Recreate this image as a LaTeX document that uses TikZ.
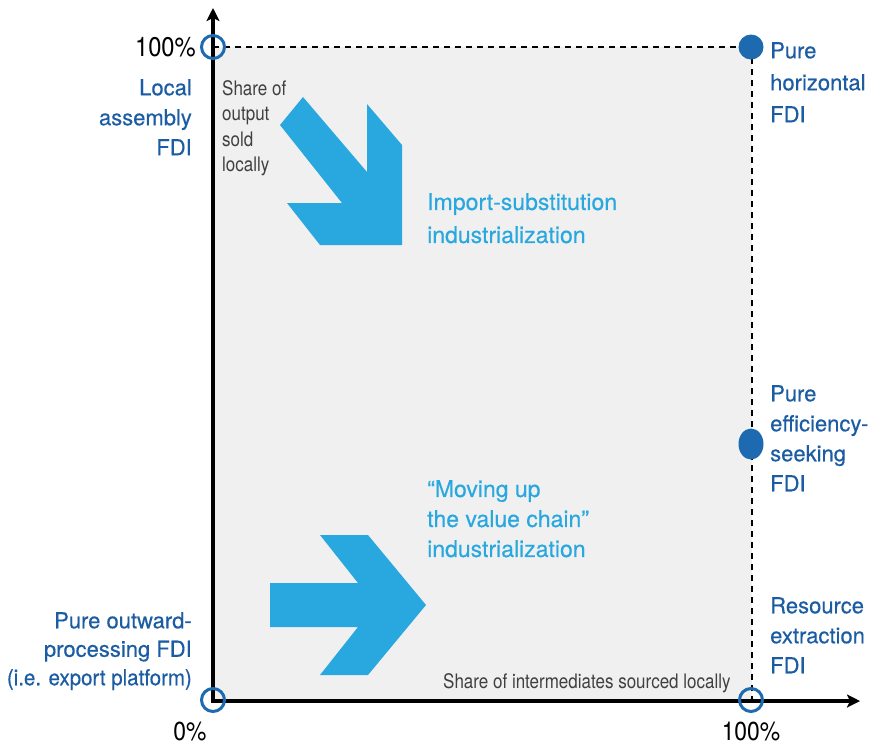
\documentclass[tikz,border=0pt]{standalone}
\usepackage{fontspec}
\setmainfont{TeX Gyre Heros}
\newfontfamily\lblfont[FakeBold=0.35]{TeX Gyre Heros}
\newfontfamily\lblnarrow[FakeBold=0.35, FakeStretch=0.93]{TeX Gyre Heros}
\newfontfamily\condfont[FakeStretch=0.85]{TeX Gyre Heros}
\newfontfamily\numfont[FakeStretch=0.88]{TeX Gyre Heros}
\usetikzlibrary{arrows.meta,shapes.geometric}
\definecolor{boxgrey}{HTML}{F0F0F0}
\definecolor{arrowblue}{HTML}{29A8E0}
\definecolor{darkblue}{HTML}{1B5CA2}
\definecolor{circblue}{HTML}{1E6AB0}
\definecolor{smallgrey}{HTML}{404040}
\tikzset{
  lbl/.style={inner sep=0pt, text=darkblue, font=\lblfont\fontsize{22}{30}\selectfont},
  lblue/.style={inner sep=0pt, text=arrowblue, font=\lblfont\fontsize{23}{31}\selectfont},
  smalltxt/.style={inner sep=0pt, text=smallgrey, font=\condfont\fontsize{20}{25.5}\selectfont},
  pct/.style={inner sep=0pt, text=black, font=\numfont\fontsize{27}{30}\selectfont},
  opencirc/.style={circle, draw=circblue, line width=3pt, fill=none, minimum size=23pt, inner sep=0pt},
  fullcirc/.style={circle, fill=circblue, minimum size=25pt, inner sep=0pt},
  fullell/.style={ellipse, fill=circblue, minimum width=25pt, minimum height=31pt, inner sep=0pt},
  axis/.style={line width=4.5pt, -{Stealth[length=13pt, width=13pt, inset=3pt]}},
  dashline/.style={line width=1.5pt, dash pattern=on 6pt off 5pt},
  bigarrow/.style={fill=arrowblue, draw=none}
}
\begin{document}
\begin{tikzpicture}[x=1pt, y=-1pt]
\useasboundingbox (0,0) rectangle (869,748);
% grey box
\fill[boxgrey] (213,47) rectangle (752,700);
% dashed borders
\coordinate (TL) at (213,47);
\coordinate (TR) at (752,47);
\coordinate (BR) at (752,700);
\draw[dashline] (TL) -- (TR) -- (BR);
% big arrows
\fill[bigarrow] (280,125) -- (303,97) -- (367,172) -- (367,104) -- (402,145) -- (402,245) -- (320,245) -- (287,203) -- (342,203) -- cycle;
\fill[bigarrow] (270,583) -- (358,583) -- (320,535) -- (368,535) -- (426,605) -- (368,675) -- (320,675) -- (358,627) -- (270,627) -- cycle;
% axes
\coordinate (O) at (213,701);
\coordinate (Ytip) at (213,8);
\coordinate (Xtip) at (860,701);
\draw[axis] ([yshift=2.25pt]O) -- (Ytip);
\draw[axis] ([xshift=-2.25pt]O) -- (Xtip);
% circles
\node[opencirc] (c01) at (213,47) {};
\node[fullcirc] (c11) at (751,47) {};
\node[fullell] (cmid) at (751,444) {};
\node[opencirc] (c00) at (213,700) {};
\node[opencirc] (c10) at (751,700) {};
% percent labels
\node[pct, anchor=north east] (p100y) at (196,37) {100\%};
\node[pct, anchor=north, font=\numfont\fontsize{26}{30}\selectfont] (p0) at (190,722) {0\%};
\node[pct, anchor=north, font=\numfont\fontsize{26}{30}\selectfont] (p100x) at (751,722) {100\%};
% blue labels
\node[lbl, anchor=north east, align=right] (lassembly) at (192,79) {Local\\assembly\\FDI};
\node[lbl, anchor=north east, align=right, font=\lblfont\fontsize{22}{28.5}\selectfont] (pout) at (192,612) {Pure outward-\\processing FDI\\{\lblnarrow (i.e. export platform)}};
\node[lbl, anchor=north west, align=left, font=\lblfont\fontsize{22}{32}\selectfont] (phor) at (770,42) {Pure\\horizontal\\FDI};
\node[lbl, anchor=north west, align=left] (peff) at (770,385) {Pure\\efficiency-\\seeking\\FDI};
\node[lbl, anchor=north west, align=left] (res) at (770,597) {Resource\\extraction\\FDI};
% light blue labels
\node[lblue, anchor=north west, align=left, font=\lblfont\fontsize{23}{33}\selectfont] (isi) at (427,193) {Import-substitution\\industrialization};
\node[lblue, anchor=north west, align=left, font=\lblfont\fontsize{23}{30}\selectfont] (mvc) at (427,480) {“Moving up\\the value chain”\\industrialization};
% axis titles
\node[smalltxt, anchor=north west, align=left] (shareout) at (222,80) {Share of\\output\\sold\\locally};
\node[smalltxt, anchor=north west] (shareint) at (443,673) {Share of intermediates sourced locally};
\end{tikzpicture}
\end{document}
